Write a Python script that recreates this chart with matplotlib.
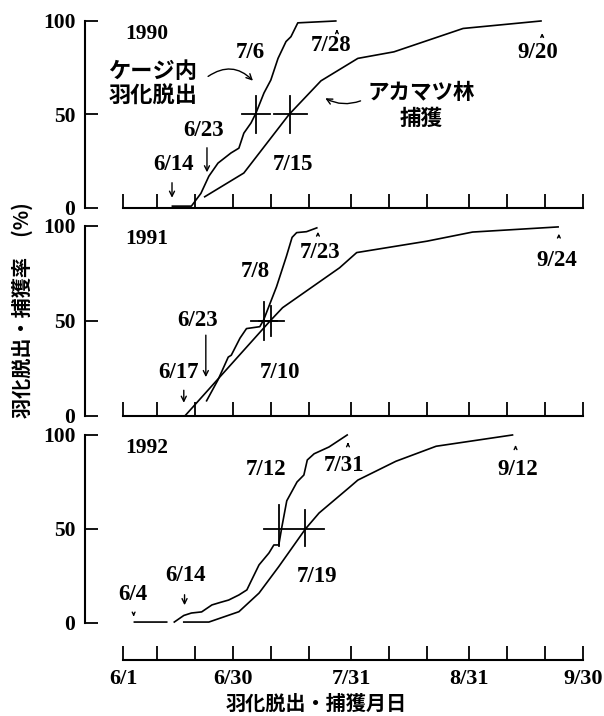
import matplotlib
matplotlib.use('Agg')
import matplotlib.pyplot as plt
import numpy as np

plt.rcParams['font.family'] = ['Liberation Serif', 'Noto Sans CJK JP']
plt.rcParams['font.weight'] = 'bold'
jp = 'Noto Sans CJK JP'

# days counted from 6/1
tick_days = [0, 9, 19, 29, 39, 49, 60, 70, 80, 91, 101, 111, 121]
label_days = [0, 29, 60, 91, 121]
label_text = ['6/1', '6/30', '7/31', '8/31', '9/30']
years = ['1990', '1991', '1992']

# 1990
cage90_d = [13, 18, 20.5, 22.6, 25, 28.4, 30.5, 31.8, 33.7, 35, 37.1, 38.9, 40.8, 42.9, 44.2, 46, 56]
cage90_v = [1, 1, 7.8, 17, 24, 29.4, 32, 40, 45.5, 50.8, 61.5, 68.4, 80, 89, 91.6, 99, 100]
trap90_d = [21.5, 31.8, 43.7, 52.1, 61.8, 71.3, 89.5, 110]
trap90_v = [6, 18.7, 50, 68, 80, 83.5, 96, 100]
# 1991
cage91_d = [22, 25, 27.7, 28.5, 30.8, 32.5, 36, 37, 40.4, 43, 44.5, 45.7, 48.3, 51]
cage91_v = [8, 19, 31, 32, 41, 46, 47, 50.5, 68, 84, 94, 96.5, 97, 99]
trap91_d = [16.5, 38.7, 42, 57, 61.5, 80, 92, 114.5]
trap91_v = [0.5, 50, 57, 78, 86, 92, 96.8, 99.5]
# 1992 (gap after the first flat piece)
cage92_d = [3, 11.5, np.nan, 13.5, 16, 18, 20.7, 23.4, 25.7, 27.8, 30.5, 32.6, 33.6, 35.8, 38.4,
            39.7, 41, 41.8, 43.1, 45.8, 47.6, 48.5, 50.3, 54.2, 59]
cage92_v = [0.5, 0.5, np.nan, 0.5, 4, 5.3, 5.9, 9.6, 11, 12.2, 14.9, 17.6, 21.8, 30.9, 37.2,
            41.5, 41.5, 51, 65, 75, 78.7, 86.7, 90, 93.6, 100]
trap92_d = [16, 22.6, 30.5, 35.8, 41, 48, 51.6, 59.5, 61.8, 71.8, 82.4, 102.5]
trap92_v = [0.5, 0.5, 6, 15.9, 30, 50, 58.5, 72, 76, 86, 94, 100]

cages = [(cage90_d, cage90_v), (cage91_d, cage91_v), (cage92_d, cage92_v)]
traps = [(trap90_d, trap90_v), (trap91_d, trap91_v), (trap92_d, trap92_v)]

fig = plt.figure(figsize=(6.04, 7.16), dpi=100)
left, width = 0.1407, 0.8305
boxes = [(0.7095, 0.2612), (0.4190, 0.2654), (0.1299, 0.2626)]
axes = []
for i, (b, h) in enumerate(boxes):
    ax = fig.add_axes([left, b, width, h])
    ax.set_xlim(-10, 122)
    ax.set_ylim(0, 100)
    ax.spines['top'].set_visible(False)
    ax.spines['right'].set_visible(False)
    ax.spines['left'].set_bounds(0, 100)
    ax.spines['bottom'].set_bounds(0, 121)
    ax.spines['left'].set_linewidth(1.5)
    ax.spines['bottom'].set_linewidth(1.5)
    ax.set_yticks([0, 50, 100])
    ax.set_xticks(tick_days)
    ax.tick_params(axis='y', direction='in', length=9.5, width=1.3, labelsize=15.5, pad=7)
    ax.tick_params(axis='x', direction='in', length=10, width=1.3, labelsize=16, pad=6)
    if i < 2:
        ax.set_xticklabels([])
    else:
        ax.set_xticklabels([label_text[label_days.index(d)] if d in label_days else '' for d in tick_days])
        ax.spines['bottom'].set_position(('outward', 27))
    ax.plot(*cages[i], color='k', lw=1.2, clip_on=False)
    ax.plot(*traps[i], color='k', lw=1.2, clip_on=False)
    ax.text(6.3, 93, years[i], fontsize=15.5, ha='center', va='center')
    axes.append(ax)

def lab(ax, x, y, s, **kw):
    ax.text(x, y, s, fontsize=16.5, ha='center', va='center', **kw)

def arrow(ax, x0, y0, x1, y1, ms=9):
    ax.annotate('', xy=(x1, y1), xytext=(x0, y0),
                arrowprops=dict(arrowstyle='->', lw=1.0, color='k', mutation_scale=ms))

def cross(ax, x, y, dx, dy):
    ax.plot([x - dx, x + dx], [y, y], color='k', lw=1.3)
    ax.plot([x, x], [y - dy, y + dy], color='k', lw=1.3)

# 1990
ax = axes[0]
lab(ax, 33.4, 83, '7/6')
ax.text(7.9, 73, 'ケージ内', family=jp, fontsize=16, ha='center', va='center', weight='bold')
ax.text(7.9, 60, '羽化脱出', family=jp, fontsize=16, ha='center', va='center', weight='bold')
ax.annotate('', xy=(34.7, 67), xytext=(21.8, 69.5),
            arrowprops=dict(arrowstyle='->', lw=1.0, color='k', connectionstyle='arc3,rad=-0.45'))
lab(ax, 21.3, 41.7, '6/23')
arrow(ax, 22.1, 33.7, 22.1, 17.6)
lab(ax, 13.4, 23.5, '6/14')
arrow(ax, 12.9, 15, 12.9, 4)
cross(ax, 35, 50, 3.7, 10)
cross(ax, 44, 50, 4.3, 10)
lab(ax, 44.7, 23.5, '7/15')
lab(ax, 54.7, 87, '7/28')
arrow(ax, 56.3, 92.5, 56.3, 97, ms=5)
lab(ax, 109.2, 83, '9/20')
arrow(ax, 110.3, 90, 110.3, 95, ms=5)
ax.text(78.4, 62, 'アカマツ林', family=jp, fontsize=15.5, ha='center', va='center', weight='bold')
ax.text(78.4, 48, '捕獲', family=jp, fontsize=15.5, ha='center', va='center', weight='bold')
ax.annotate('', xy=(52.6, 59.4), xytext=(63.2, 57.8),
            arrowprops=dict(arrowstyle='->', lw=1.0, color='k', connectionstyle='arc3,rad=-0.25'))

# 1991
ax = axes[1]
lab(ax, 34.7, 75.8, '7/8')
lab(ax, 19.7, 50.5, '6/23')
arrow(ax, 21.8, 44, 21.8, 19)
lab(ax, 14.5, 23, '6/17')
arrow(ax, 16, 15, 16, 5.5)
lab(ax, 41.3, 23, '7/10')
lab(ax, 51.8, 85.8, '7/23')
arrow(ax, 51.3, 93.7, 51.3, 98.4, ms=5)
lab(ax, 114.2, 82, '9/24')
arrow(ax, 114.7, 92.6, 114.7, 97.4, ms=5)
cross(ax, 37, 50, 3.4, 10)
cross(ax, 39, 50, 3.3, 8)

# 1992
ax = axes[2]
lab(ax, 37.6, 81.4, '7/12')
lab(ax, 16.5, 25.5, '6/14')
arrow(ax, 16.2, 16.5, 16.2, 8)
lab(ax, 2.5, 15, '6/4')
arrow(ax, 2.8, 6, 2.8, 2, ms=5)
lab(ax, 51, 24.5, '7/19')
lab(ax, 58.2, 84, '7/31')
arrow(ax, 59.2, 93.6, 59.2, 97.5, ms=5)
lab(ax, 103.8, 81.4, '9/12')
arrow(ax, 103.3, 92, 103.3, 96, ms=5)
ax.plot([37, 53], [50, 50], color='k', lw=1.3)
ax.plot([41, 41], [41, 63], color='k', lw=1.3)
ax.plot([48, 48], [41, 60], color='k', lw=1.3)

fig.text(22 / 604, 1 - 310 / 716, '羽化脱出・捕獲率　(%)', family=jp, fontsize=14.5,
         weight='bold', rotation=90, ha='center', va='center')
fig.text(316 / 604, 1 - 703 / 716, '羽化脱出・捕獲月日', family=jp, fontsize=14.5,
         weight='bold', ha='center', va='center')

fig.savefig('out.png', dpi=100)
